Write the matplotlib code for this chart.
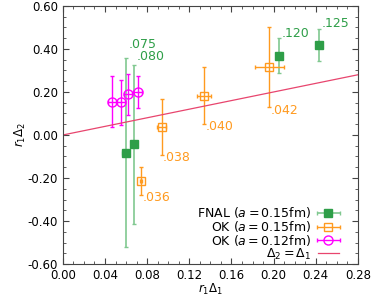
import numpy as np
import matplotlib.pyplot as plt
from matplotlib.ticker import MultipleLocator, FormatStrFormatter
from matplotlib.legend_handler import HandlerErrorbar

# FNAL (a = 0.15 fm)
fnal_x = [0.0596, 0.0678, 0.205, 0.243]
fnal_y = [-0.082, -0.043, 0.369, 0.419]
fnal_xerr = [0.003, 0.003, 0.003, 0.003]
fnal_yerr = [0.44, 0.37, 0.08, 0.075]
fnal_lab = ['.075', '.080', '.120', '.125']

# OK (a = 0.15 fm)
ok15_x = [0.0741, 0.0937, 0.134, 0.196]
ok15_y = [-0.214, 0.037, 0.183, 0.316]
ok15_xerr = [0.001, 0.004, 0.007, 0.014]
ok15_yerr = [0.063, 0.128, 0.132, 0.188]
ok15_lab = ['.036', '.038', '.040', '.042']

# OK (a = 0.12 fm)
ok12_x = [0.047, 0.0549, 0.0621, 0.071]
ok12_y = [0.155, 0.152, 0.189, 0.201]
ok12_xerr = [0.004, 0.004, 0.004, 0.004]
ok12_yerr = [0.12, 0.105, 0.095, 0.075]

green = '#2e9e48'
green_l = '#80c890'
orange = '#ff9a1f'
magenta = '#ff00ff'
red = '#e8456e'

plt.rcParams['font.size'] = 8.5
fig = plt.figure(figsize=(3.74, 2.97), dpi=100)
ax = fig.add_axes([0.168, 0.111, 0.789, 0.869])

styles = [
    dict(fmt='s', color=green, ecolor=green_l, ms=6, capsize=1.5, elinewidth=1.2),
    dict(fmt='s', color=orange, mfc='none', ms=6.3, capsize=1.5, elinewidth=1, mew=1),
    dict(fmt='o', color=magenta, mfc='none', ms=6.5, capsize=1.5, elinewidth=1, mew=1),
]
names = ['FNAL ($a = 0.15$fm)', 'OK ($a = 0.15$fm)', 'OK ($a = 0.12$fm)']

ax.errorbar(fnal_x, fnal_y, xerr=fnal_xerr, yerr=fnal_yerr, **styles[0])
ax.errorbar(ok15_x, ok15_y, xerr=ok15_xerr, yerr=ok15_yerr, **styles[1])
ax.errorbar(ok12_x, ok12_y, xerr=ok12_xerr, yerr=ok12_yerr, **styles[2])

# legend proxies: horizontal bars only, like the original key
handles = []
for st, nm in zip(styles, names):
    handles.append(ax.errorbar([np.nan], [np.nan], xerr=[1], label=nm, **st))

xl = np.array([0.0, 0.28])
h4, = ax.plot(xl, xl, color=red, lw=0.9, label=r'$\Delta_2 = \Delta_1$')
handles.append(h4)

# small vertical nudges (points) so the two low labels do not collide
g_off = [6, 2, 0, 0]
for x, y, e, t, o in zip(fnal_x, fnal_y, fnal_yerr, fnal_lab, g_off):
    ax.annotate(t, (x, y + e), xytext=(2, o - 1), textcoords='offset points',
                color=green, fontsize=9, ha='left', va='bottom')
for x, y, e, t in zip(ok15_x, ok15_y, ok15_yerr, ok15_lab):
    ax.annotate(t, (x, y - e), xytext=(1, -2), textcoords='offset points',
                color=orange, fontsize=9, ha='left', va='center')

ax.set_xlim(0, 0.28)
ax.set_ylim(-0.6, 0.6)
ax.xaxis.set_major_locator(MultipleLocator(0.04))
ax.xaxis.set_minor_locator(MultipleLocator(0.01))
ax.yaxis.set_major_locator(MultipleLocator(0.2))
ax.yaxis.set_minor_locator(MultipleLocator(0.05))
ax.xaxis.set_major_formatter(FormatStrFormatter('%.2f'))
ax.yaxis.set_major_formatter(FormatStrFormatter('%.2f'))
ax.tick_params(which='both', direction='in', top=True, right=True, color='#444444')
ax.tick_params(which='major', length=4)
ax.tick_params(which='minor', length=2)
for s in ax.spines.values():
    s.set_color('#444444')

ax.set_xlabel(r'$r_1\Delta_1$', labelpad=0)
ax.set_ylabel(r'$r_1\Delta_2$', labelpad=0)

hm = {h: HandlerErrorbar(xerr_size=0.9) for h in handles[:3]}
ax.legend(handles, [h.get_label() for h in handles], handler_map=hm,
          loc='lower right', bbox_to_anchor=(0.953, -0.01), frameon=False,
          markerfirst=False, fontsize=9,
          handlelength=1.7, borderaxespad=0.2, borderpad=0.2,
          labelspacing=-0.1, handletextpad=0.5)

fig.savefig('out.png', dpi=100)
